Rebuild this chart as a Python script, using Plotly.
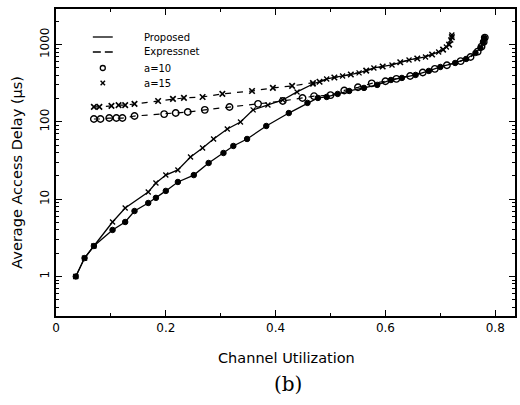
import plotly.graph_objects as go

# Proposed, a=10 (lower solid curve)
prop10_x = [0.036, 0.052, 0.069, 0.103, 0.126, 0.143, 0.168, 0.182, 0.200, 0.222, 0.251, 0.278,
            0.305, 0.323, 0.348, 0.383, 0.424, 0.458, 0.477, 0.493, 0.513, 0.534, 0.561, 0.585,
            0.610, 0.630, 0.655, 0.679, 0.700, 0.727, 0.747, 0.764, 0.773, 0.778, 0.780]
prop10_y = [1.0, 1.73, 2.48, 4.0, 5.07, 7.03, 8.93, 10.4, 12.8, 16.7, 20.5, 29.4,
            39.6, 48.8, 60.1, 88.5, 130, 176, 204, 210, 230, 251, 275, 301,
            348, 370, 405, 456, 513, 578, 651, 779, 903, 1081, 1218]

# Proposed, a=15 (upper solid curve)
prop15_x = [0.036, 0.052, 0.069, 0.103, 0.126, 0.168, 0.182, 0.200, 0.222, 0.245, 0.267, 0.287,
            0.312, 0.336, 0.359, 0.386, 0.413, 0.439, 0.468, 0.493, 0.522, 0.552, 0.579, 0.612,
            0.643, 0.673, 0.697, 0.711, 0.719, 0.721]
prop15_y = [1.0, 1.73, 2.48, 5.07, 7.69, 12.4, 16.2, 20.5, 23.9, 35.2, 45.9, 60.1,
            80.9, 99.7, 143, 165, 192, 244, 309, 359, 393, 430, 498, 545,
            632, 692, 802, 931, 1146, 1331]

# Expressnet, a=10 (dashed, open circles)
exp10_x = [0.069, 0.081, 0.097, 0.110, 0.121, 0.143, 0.197, 0.218, 0.240, 0.271, 0.316, 0.368,
           0.413, 0.449, 0.470, 0.500, 0.525, 0.550, 0.575, 0.600, 0.620, 0.645, 0.668, 0.690,
           0.712, 0.737, 0.755, 0.768, 0.775, 0.779, 0.781]
exp10_y = [109, 109, 112, 112, 112, 119, 126, 130, 134, 143, 156, 171,
           186, 204, 215, 222, 255, 280, 315, 335, 360, 392, 435, 485,
           540, 610, 690, 810, 940, 1080, 1230]

# Expressnet, a=15 (dashed, crosses)
exp15_x = [0.069, 0.079, 0.101, 0.114, 0.126, 0.143, 0.186, 0.213, 0.233, 0.267, 0.303, 0.357,
           0.395, 0.430, 0.468, 0.480, 0.507, 0.537, 0.565, 0.595, 0.627, 0.658, 0.685, 0.705,
           0.716, 0.721]
exp15_y = [156, 156, 161, 165, 165, 171, 186, 198, 204, 210, 230, 251,
           275, 292, 318, 330, 375, 410, 460, 520, 590, 660, 745, 860,
           1000, 1250]

legend_names = ["Proposed", "Expressnet", "a=10", "a=15"]
x_ticks = [0, 0.2, 0.4, 0.6, 0.8]
x_ticklabels = ["0", "0.2", "0.4", "0.6", "0.8"]
y_ticks = [1, 10, 100, 1000]
y_ticklabels = ["1", "10", "100", "1000"]

FONT = "DejaVu Sans"
fig = go.Figure()

fig.add_trace(go.Scatter(x=prop10_x, y=prop10_y, mode="lines+markers", showlegend=False,
                         line=dict(color="black", width=1.3),
                         marker=dict(symbol="circle", size=5.5, color="black",
                                     line=dict(color="black", width=1))))
fig.add_trace(go.Scatter(x=prop15_x, y=prop15_y, mode="lines+markers", showlegend=False,
                         line=dict(color="black", width=1.3),
                         marker=dict(symbol="x-thin-open", size=5, color="black",
                                     line=dict(color="black", width=1.3))))
fig.add_trace(go.Scatter(x=exp10_x, y=exp10_y, mode="lines+markers", showlegend=False,
                         line=dict(color="black", width=1.2, dash="6px,6px"),
                         marker=dict(symbol="circle-open", size=6.5, color="black",
                                     line=dict(color="black", width=1.4))))
fig.add_trace(go.Scatter(x=exp15_x, y=exp15_y, mode="lines+markers", showlegend=False,
                         line=dict(color="black", width=1.2, dash="6px,6px"),
                         marker=dict(symbol="x-thin-open", size=5.5, color="black",
                                     line=dict(color="black", width=1.6))))

# ---- hand-drawn legend (paper coordinates) ----
PL, PW, PB, PH = 56, 461, 316, 307
def xp(px):
    return (px - PL) / PW
def yp(py):
    return (PB - py) / PH

leg_rows = [37, 52, 68, 83]
sym_x0, sym_x1, sym_xc, txt_x = 93, 113, 103, 142

shapes = [
    dict(type="line", xref="paper", yref="paper", x0=xp(sym_x0), x1=xp(sym_x1),
         y0=yp(leg_rows[0]), y1=yp(leg_rows[0]), line=dict(color="black", width=1.3)),
    dict(type="line", xref="paper", yref="paper", x0=xp(sym_x0), x1=xp(sym_x1),
         y0=yp(leg_rows[1]), y1=yp(leg_rows[1]), line=dict(color="black", width=1.3, dash="8px,4px")),
    dict(type="circle", xref="paper", yref="paper", xsizemode="pixel", ysizemode="pixel",
         xanchor=xp(sym_xc), yanchor=yp(leg_rows[2]), x0=-2.5, x1=2.5, y0=-2.5, y1=2.5,
         line=dict(color="black", width=1.3)),
    dict(type="line", xref="paper", yref="paper", xsizemode="pixel", ysizemode="pixel",
         xanchor=xp(sym_xc), yanchor=yp(leg_rows[3]), x0=-2.2, x1=2.2, y0=-2.2, y1=2.2,
         line=dict(color="black", width=1.4)),
    dict(type="line", xref="paper", yref="paper", xsizemode="pixel", ysizemode="pixel",
         xanchor=xp(sym_xc), yanchor=yp(leg_rows[3]), x0=-2.2, x1=2.2, y0=2.2, y1=-2.2,
         line=dict(color="black", width=1.4)),
]

annotations = [
    dict(text=name, xref="paper", yref="paper", x=xp(txt_x), y=yp(row), showarrow=False,
         xanchor="left", yanchor="middle", font=dict(size=10, family=FONT))
    for name, row in zip(legend_names, leg_rows)
]
annotations += [
    dict(text="Channel Utilization", xref="paper", yref="paper", x=0.503, y=-0.137,
         showarrow=False, font=dict(size=14.5, family=FONT), xanchor="center", yanchor="middle"),
    dict(text="Average Access Delay (μs)", xref="paper", yref="paper", x=-0.085, y=0.47,
         showarrow=False, textangle=-90, font=dict(size=14.5, family=FONT),
         xanchor="center", yanchor="middle"),
    dict(text="(b)", xref="paper", yref="paper", x=0.505, y=-0.22,
         showarrow=False, font=dict(size=20, family="DejaVu Serif"),
         xanchor="center", yanchor="middle"),
]

minor_y = [m * 10 ** d for d in range(-1, 4) for m in range(2, 10)]

fig.update_layout(
    width=520, height=405,
    margin=dict(l=56, r=3, t=9, b=89),
    paper_bgcolor="white", plot_bgcolor="white",
    font=dict(family=FONT, color="black", size=11),
    showlegend=False,
    shapes=shapes,
    annotations=annotations,
    xaxis=dict(range=[0, 0.836], tickvals=x_ticks, ticktext=x_ticklabels,
               ticks="inside", ticklen=6, tickwidth=1.3, tickcolor="black",
               showline=True, linecolor="black", linewidth=1.5, mirror="ticks",
               showgrid=False, zeroline=False,
               tickfont=dict(size=12, family=FONT),
               minor=dict(dtick=0.1, tick0=0, ticks="inside", ticklen=3, tickcolor="black",
                          showgrid=False)),
    yaxis=dict(type="log", range=[-0.511, 3.46], tickvals=y_ticks, ticktext=y_ticklabels,
               ticks="inside", ticklen=6, tickwidth=1.3, tickcolor="black",
               showline=True, linecolor="black", linewidth=1.5, mirror="ticks",
               showgrid=False, zeroline=False, tickangle=-90,
               tickfont=dict(size=12, family=FONT),
               minor=dict(tickvals=minor_y, ticks="inside", ticklen=3, tickcolor="black",
                          showgrid=False)),
)

fig.write_html("out.html")
